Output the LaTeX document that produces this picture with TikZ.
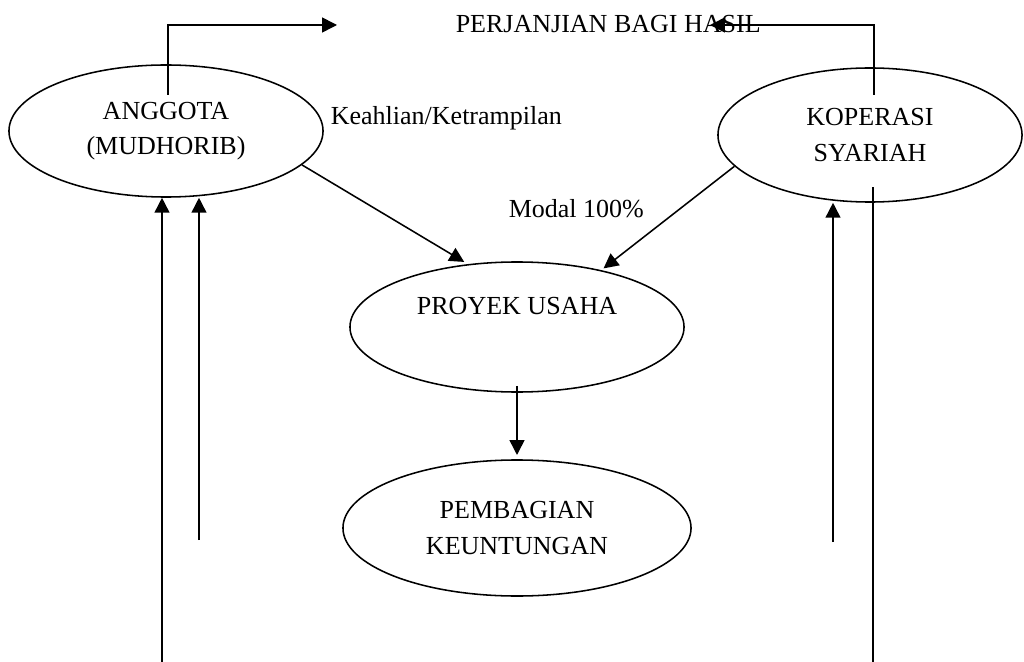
\documentclass[tikz,border=0pt]{standalone}
\usepackage{fontspec}
\setmainfont{Liberation Serif}
\usetikzlibrary{arrows.meta,shapes.geometric}

\begin{document}
\begin{tikzpicture}[x=0.025cm,y=-0.025cm,line width=1.1pt,
  every node/.style={font=\fontsize{18.5}{25}\selectfont},
  oval/.style={draw,ellipse,inner sep=0pt,align=center},
  arr/.style={-{Triangle[length=10.5pt,width=10.5pt]}}]
  \useasboundingbox (0,0) rectangle (1024,662);
  % ellipses
  \node[oval,minimum width=7.85cm,minimum height=3.3cm] (anggota) at (166,131) {ANGGOTA\\(MUDHORIB)};
  \node[oval,minimum width=7.6cm,minimum height=3.35cm] (koperasi) at (870,135) {KOPERASI\\SYARIAH};
  \node[oval,minimum width=8.35cm,minimum height=3.25cm,
        label={[yshift=15pt]center:PROYEK USAHA}] (proyek) at (517,327) {};
  \node[oval,minimum width=8.7cm,minimum height=3.4cm] (pembagian) at (517,528) {PEMBAGIAN\\KEUNTUNGAN};
  % labels
  \node[anchor=base west,inner sep=0pt] (perjanjian) at (455,33) {PERJANJIAN BAGI HASIL};
  \node[anchor=base west,inner sep=0pt] (keahlian) at (330,125) {Keahlian/Ketrampilan};
  \node[anchor=base west,inner sep=0pt] (modal) at (508,218) {Modal 100\%};
  % agreement
  \coordinate (agtUp) at (168,95); \coordinate (perjL) at (337,25);
  \coordinate (kopUp) at (874,95); \coordinate (perjR) at (710,25);
  \draw[arr] (agtUp) |- (perjL);
  \draw[arr] (kopUp) |- (perjR);
  % inputs to the project
  \draw[arr,shorten >=3pt] (anggota.-14) -- (proyek.128);
  \draw[arr,shorten >=2pt] (koperasi.193) -- (proyek.34);
  \draw[arr,shorten <=-5pt,shorten >=3pt] (proyek.south) -- (pembagian.north);
  % returns
  \coordinate (agtFoot1) at (162,662); \coordinate (agtFoot2) at (199,540);
  \coordinate (kopFoot1) at (833,542); \coordinate (kopFoot2) at (873,662);
  \coordinate (kopIn) at (873,187);
  \draw[arr] (agtFoot1) -- (agtFoot1 |- anggota.south);
  \draw[arr] (agtFoot2) -- (agtFoot2 |- anggota.south);
  \draw[arr] (kopFoot1) -- (kopFoot1 |- koperasi.south);
  \draw (kopFoot2) -- (kopIn);
\end{tikzpicture}
\end{document}
